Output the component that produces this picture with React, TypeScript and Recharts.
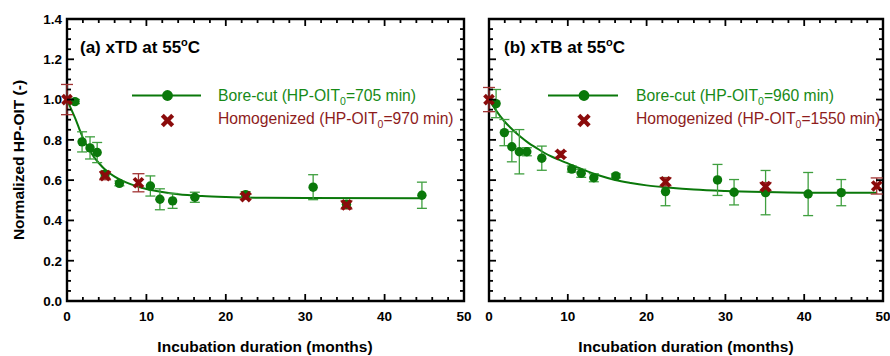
import React from 'react';
import { ComposedChart, XAxis, YAxis, Scatter, Line, ErrorBar, ReferenceArea } from 'recharts';

const FONT = '"Liberation Sans", Arial, Helvetica, sans-serif';
const GREEN = '#0a780a';
const GREEN_ERR = '#3f9f3f';
const GREEN_TEXT = '#178a17';
const RED = '#8b0b0b';
const RED_ERR = '#a23434';
const RED_TEXT = '#8e1c1c';

// Tick values
const X_TICKS = [0, 2, 4, 6, 8, 10, 12, 14, 16, 18, 20, 22, 24, 26, 28, 30, 32, 34, 36, 38, 40, 42, 44, 46, 48, 50];
const X_MAJOR = [0, 10, 20, 30, 40, 50];
const Y_TICKS = [0, 0.05, 0.1, 0.15, 0.2, 0.25, 0.3, 0.35, 0.4, 0.45, 0.5, 0.55, 0.6, 0.65, 0.7, 0.75, 0.8, 0.85, 0.9, 0.95, 1.0, 1.05, 1.1, 1.15, 1.2, 1.25, 1.3, 1.35, 1.4];
const Y_MAJOR = [0, 0.2, 0.4, 0.6, 0.8, 1.0, 1.2, 1.4];

// Panel (a) xTD at 55 °C
const boreCutA = [
  { x: 1.0, y: 0.99, e: 0.01 },
  { x: 1.9, y: 0.79, e: 0.05 },
  { x: 2.9, y: 0.76, e: 0.055 },
  { x: 3.8, y: 0.737, e: 0.05 },
  { x: 4.8, y: 0.63, e: 0.015 },
  { x: 6.6, y: 0.584, e: 0.012 },
  { x: 10.5, y: 0.571, e: 0.05 },
  { x: 11.7, y: 0.505, e: 0.052 },
  { x: 13.3, y: 0.497, e: 0.037 },
  { x: 16.1, y: 0.515, e: 0.025 },
  { x: 22.5, y: 0.528, e: 0.015 },
  { x: 31.0, y: 0.565, e: 0.062 },
  { x: 35.2, y: 0.48, e: 0.015 },
  { x: 44.7, y: 0.525, e: 0.065 },
];
const homogA = [
  { x: 0, y: 1.0, e: 0.075 },
  { x: 4.8, y: 0.622, e: 0.02 },
  { x: 9.0, y: 0.587, e: 0.045 },
  { x: 22.5, y: 0.518, e: 0.012 },
  { x: 35.2, y: 0.477, e: 0.02 },
];
const fitA = [
  { x: 0, y: 1.0 }, { x: 0.5, y: 0.955 }, { x: 1, y: 0.91 }, { x: 1.5, y: 0.86 },
  { x: 2, y: 0.81 }, { x: 2.5, y: 0.772 }, { x: 3, y: 0.737 }, { x: 4, y: 0.685 },
  { x: 5, y: 0.645 }, { x: 6, y: 0.617 }, { x: 7, y: 0.596 }, { x: 8, y: 0.58 },
  { x: 9, y: 0.567 }, { x: 10, y: 0.556 }, { x: 12, y: 0.541 }, { x: 14, y: 0.53 },
  { x: 17, y: 0.521 }, { x: 20, y: 0.516 }, { x: 25, y: 0.512 }, { x: 30, y: 0.511 },
  { x: 44.7, y: 0.51 },
];

// Panel (b) xTB at 55 °C
const boreCutB = [
  { x: 0.9, y: 0.98, e: 0.07 },
  { x: 1.95, y: 0.836, e: 0.065 },
  { x: 2.9, y: 0.766, e: 0.075 },
  { x: 3.85, y: 0.741, e: 0.11 },
  { x: 4.8, y: 0.741, e: 0.02 },
  { x: 6.7, y: 0.709, e: 0.06 },
  { x: 10.5, y: 0.655, e: 0.015 },
  { x: 11.7, y: 0.634, e: 0.02 },
  { x: 13.3, y: 0.612, e: 0.02 },
  { x: 16.1, y: 0.621, e: 0.01 },
  { x: 22.4, y: 0.543, e: 0.07 },
  { x: 29.0, y: 0.601, e: 0.077 },
  { x: 31.1, y: 0.54, e: 0.063 },
  { x: 35.1, y: 0.538, e: 0.11 },
  { x: 40.5, y: 0.531, e: 0.107 },
  { x: 44.7, y: 0.538, e: 0.065 },
];
const homogB = [
  { x: 0, y: 1.0, e: 0.06 },
  { x: 9.1, y: 0.728, e: 0.015 },
  { x: 22.4, y: 0.592, e: 0.02 },
  { x: 35.1, y: 0.568, e: 0.02 },
  { x: 49.2, y: 0.571, e: 0.04 },
];
const fitB = [
  { x: 0, y: 1.0 }, { x: 0.5, y: 0.97 }, { x: 1, y: 0.94 }, { x: 2, y: 0.89 },
  { x: 3, y: 0.85 }, { x: 4, y: 0.815 }, { x: 5, y: 0.785 }, { x: 6, y: 0.76 },
  { x: 7, y: 0.736 }, { x: 8, y: 0.716 }, { x: 9, y: 0.699 }, { x: 10, y: 0.683 },
  { x: 11, y: 0.667 }, { x: 12, y: 0.651 }, { x: 14, y: 0.623 }, { x: 16, y: 0.601 },
  { x: 18, y: 0.586 }, { x: 20, y: 0.574 }, { x: 23, y: 0.562 }, { x: 26, y: 0.553 },
  { x: 30, y: 0.546 }, { x: 35, y: 0.541 }, { x: 40, y: 0.538 }, { x: 49.2, y: 0.537 },
];

const PLOT_TOP = 19;
const PLOT_BOTTOM = 301;

const Dot = (p: any) => <circle cx={p.cx} cy={p.cy} r={4.7} fill={GREEN} />;
const Cross = (p: any) => {
  const s = 4.5;
  return (
    <g>
      <line x1={p.cx - s} y1={p.cy - s} x2={p.cx + s} y2={p.cy + s} stroke={RED} strokeWidth={3.8} />
      <line x1={p.cx - s} y1={p.cy + s} x2={p.cx + s} y2={p.cy - s} stroke={RED} strokeWidth={3.8} />
    </g>
  );
};

function Panel(props: any) {
  const { left, width, yAxisWidth, marginRight, bore, homog, fit, showYLabels } = props;
  const plotLeft = yAxisWidth;
  const plotRight = width - marginRight;

  const xTick = (p: any) => {
    const v = p.payload.value;
    const major = X_MAJOR.indexOf(v) >= 0;
    const len = major ? 7 : 4;
    return (
      <g>
        <line x1={p.x} x2={p.x} y1={PLOT_BOTTOM} y2={PLOT_BOTTOM - len} stroke="#000" strokeWidth={1.8} />
        <line x1={p.x} x2={p.x} y1={PLOT_TOP} y2={PLOT_TOP + len} stroke="#000" strokeWidth={1.8} />
        {major && (
          <text x={p.x} y={PLOT_BOTTOM + 20} textAnchor="middle" fontFamily={FONT} fontWeight="bold" fontSize={13.5} fill="#000">
            {v}
          </text>
        )}
      </g>
    );
  };

  const yTick = (p: any) => {
    const v = p.payload.value;
    const major = Y_MAJOR.indexOf(v) >= 0;
    const len = major ? 7 : 4;
    return (
      <g>
        <line x1={plotLeft} x2={plotLeft + len} y1={p.y} y2={p.y} stroke="#000" strokeWidth={1.8} />
        <line x1={plotRight} x2={plotRight - len} y1={p.y} y2={p.y} stroke="#000" strokeWidth={1.8} />
        {major && showYLabels && (
          <text x={plotLeft - 5} y={p.y + 4.8} textAnchor="end" fontFamily={FONT} fontWeight="bold" fontSize={13.5} fill="#000">
            {v.toFixed(1)}
          </text>
        )}
      </g>
    );
  };

  return (
    <div style={{ position: 'absolute', left, top: 0 }}>
      <ComposedChart width={width} height={356} margin={{ top: PLOT_TOP, right: marginRight, bottom: 25, left: 0 }}>
        <XAxis type="number" dataKey="x" domain={[0, 50]} ticks={X_TICKS} interval={0} tick={xTick} tickLine={false} axisLine={false} height={30} tickSize={0} />
        <YAxis type="number" domain={[0, 1.4]} ticks={Y_TICKS} interval={0} tick={yTick} tickLine={false} axisLine={false} width={yAxisWidth} tickSize={0} />
        <ReferenceArea x1={0} x2={50} y1={0} y2={1.4} fill="none" fillOpacity={0} stroke="#000" strokeWidth={2.4} ifOverflow="visible" />
        <Line data={fit} dataKey="y" type="monotone" stroke={GREEN} strokeWidth={2} dot={false} activeDot={false} isAnimationActive={false} />
        <Scatter data={bore} dataKey="y" fill={GREEN} shape={Dot} isAnimationActive={false}>
          <ErrorBar dataKey="e" direction="y" width={5} stroke={GREEN_ERR} strokeWidth={1.3} isAnimationActive={false} />
        </Scatter>
        <Scatter data={homog} dataKey="y" fill={RED} shape={Cross} isAnimationActive={false}>
          <ErrorBar dataKey="e" direction="y" width={6} stroke={RED_ERR} strokeWidth={1.3} isAnimationActive={false} />
        </Scatter>
      </ComposedChart>
    </div>
  );
}

function Legend(props: any) {
  const { lx1, lx2, cx, tx, bore, homog } = props;
  return (
    <g fontFamily={FONT}>
      <line x1={lx1} x2={lx2} y1={95.5} y2={95.5} stroke={GREEN} strokeWidth={2.2} />
      <circle cx={cx} cy={95.5} r={5.4} fill={GREEN} />
      <text x={tx} y={100.5} fontSize={15.7} fill={GREEN_TEXT}>
        {'Bore-cut (HP-OIT'}
        <tspan fontSize={10.5} dy={4}>0</tspan>
        <tspan dy={-4}>{'=' + bore + ' min)'}</tspan>
      </text>
      <g>
        <line x1={cx - 5.2} y1={115.3} x2={cx + 5.2} y2={125.7} stroke={RED} strokeWidth={4.2} />
        <line x1={cx - 5.2} y1={125.7} x2={cx + 5.2} y2={115.3} stroke={RED} strokeWidth={4.2} />
      </g>
      <text x={tx} y={124} fontSize={15.7} fill={RED_TEXT}>
        {'Homogenized (HP-OIT'}
        <tspan fontSize={10.5} dy={4}>0</tspan>
        <tspan dy={-4}>{'=' + homog + ' min)'}</tspan>
      </text>
    </g>
  );
}

function Title(props: any) {
  return (
    <text x={props.x} y={53} fontFamily={FONT} fontWeight="bold" fontSize={17} fill="#000">
      {props.label + ' at 55'}
      <tspan fontSize={11} dy={-7}>o</tspan>
      <tspan dy={7}>C</tspan>
    </text>
  );
}

export default function App() {
  return (
    <div style={{ position: 'absolute', left: 0, top: 0, width: 890, height: 356, background: '#fff', overflow: 'hidden' }}>
      <Panel left={0} width={476} yAxisWidth={67} marginRight={12} bore={boreCutA} homog={homogA} fit={fitA} showYLabels />
      <Panel left={480} width={410} yAxisWidth={9} marginRight={7} bore={boreCutB} homog={homogB} fit={fitB} showYLabels={false} />
      <svg width={890} height={356} style={{ position: 'absolute', left: 0, top: 0, pointerEvents: 'none' }}>
        <Title x={80} label="(a) xTD" />
        <Title x={504} label="(b) xTB" />
        <Legend lx1={132} lx2={201} cx={167.5} tx={218} bore="705" homog="970" />
        <Legend lx1={548} lx2={618} cx={584} tx={636} bore="960" homog="1550" />
        <text x={265} y={352} textAnchor="middle" fontFamily={FONT} fontWeight="bold" fontSize={15.5} fill="#000">
          Incubation duration (months)
        </text>
        <text x={686} y={352} textAnchor="middle" fontFamily={FONT} fontWeight="bold" fontSize={15.5} fill="#000">
          Incubation duration (months)
        </text>
        <text x={24} y={160} transform="rotate(-90 24 160)" textAnchor="middle" fontFamily={FONT} fontWeight="bold" fontSize={15.5} fill="#000">
          Normalized HP-OIT (-)
        </text>
      </svg>
    </div>
  );
}
